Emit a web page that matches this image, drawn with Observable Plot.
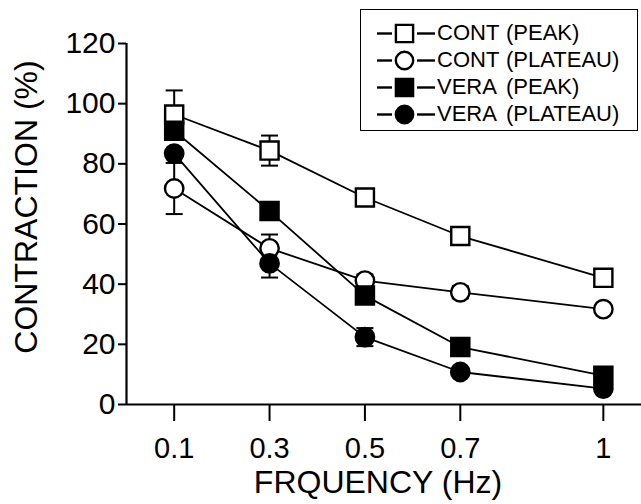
<!DOCTYPE html>
<html><head><meta charset="utf-8">
<script src="https://cdn.jsdelivr.net/npm/d3@7"></script>
<script src="https://cdn.jsdelivr.net/npm/@observablehq/plot@0.6"></script>
<style>
body{margin:0;background:#fff;}
#wrap{position:relative;width:641px;height:504px;font-family:"Liberation Sans",Arial,Helvetica,sans-serif;color:#000;}
#legendBox{position:absolute;left:360px;top:9px;width:278px;height:122px;border:1.6px solid #000;box-sizing:border-box;}
.lrow{position:absolute;height:26px;line-height:26px;font-size:22px;white-space:nowrap;}
</style></head><body><div id="wrap"></div>
<script>
// ---- data ----
const frequencies = [0.1, 0.3, 0.5, 0.7, 1];
const xTickLabels = ["0.1", "0.3", "0.5", "0.7", "1"];
const yTicks = [0, 20, 40, 60, 80, 100, 120];
const seriesKeys = ["CONT PEAK", "CONT PLATEAU", "VERA PEAK", "VERA PLATEAU"];
const legendNames = ["CONT", "CONT", "VERA", "VERA"];
const legendTypes = ["(PEAK)", "(PLATEAU)", "(PEAK)", "(PLATEAU)"];
const contPeak = [96.4, 84.4, 68.8, 56.0, 42.1];
const contPeakErr = [8, 5, 2, 0, 2];
const contPlateau = [71.8, 51.9, 41.2, 37.3, 31.7];
const contPlateauErr = [8.5, 4.6, 2, 2, 0];
const veraPeak = [91.0, 64.3, 36.2, 19.1, 9.6];
const veraPeakErr = [0, 0, 0, 2, 0];
const veraPlateau = [83.4, 46.9, 22.4, 10.8, 5.3];
const veraPlateauErr = [0, 4.7, 3, 0, 0];
const xLabel = "FRQUENCY (Hz)";
const yLabel = "CONTRACTION (%)";

// ---- build table ----
const seriesValues = [contPeak, contPlateau, veraPeak, veraPlateau];
const seriesErrs = [contPeakErr, contPlateauErr, veraPeakErr, veraPlateauErr];
const rows = [];
seriesKeys.forEach((k, s) => frequencies.forEach((f, i) => rows.push({series: k, x: f, y: seriesValues[s][i], err: seriesErrs[s][i]})));
const errRows = rows.filter(d => d.err > 0);

// ---- styles ----
const symbolOf = {"CONT PEAK": "square", "CONT PLATEAU": "circle", "VERA PEAK": "square", "VERA PLATEAU": "circle"};
const fillOf = {"CONT PEAK": "white", "CONT PLATEAU": "white", "VERA PEAK": "black", "VERA PLATEAU": "black"};
const rOf = {square: 10.2, circle: 9.2};
const capSymbol = {draw(ctx) { ctx.moveTo(-8.5, 0); ctx.lineTo(8.5, 0); }};
const font = '"Liberation Sans", Arial, Helvetica, sans-serif';

const dotMarks = seriesKeys.map(k => Plot.dot(rows.filter(d => d.series === k), {
  x: "x", y: "y", symbol: symbolOf[k], r: rOf[symbolOf[k]], fill: fillOf[k], stroke: "black", strokeWidth: 2.4
}));

const chart = Plot.plot({
  width: 641, height: 504,
  marginLeft: 126, marginRight: 0, marginTop: 43, marginBottom: 100,
  style: {fontFamily: font, color: "black", background: "white", overflow: "visible"},
  x: {domain: [0, 1.08]},
  y: {domain: [0, 120]},
  marks: [
    Plot.axisY({ticks: yTicks, tickSize: 8, tickPadding: 3, fontSize: 30, strokeWidth: 2, label: null}),
    Plot.axisX({ticks: frequencies, tickFormat: d => xTickLabels[frequencies.indexOf(d)], tickSize: 17, tickPadding: 16, fontSize: 29, strokeWidth: 2, label: null}),
    Plot.ruleX([0], {strokeWidth: 2.2}),
    Plot.ruleY([0], {strokeWidth: 2.2}),
    Plot.line(rows, {x: "x", y: "y", z: "series", stroke: "black", strokeWidth: 1.8}),
    Plot.ruleX(errRows, {x: "x", y1: d => d.y - d.err, y2: d => d.y + d.err, strokeWidth: 2}),
    Plot.dot(errRows, {x: "x", y: d => d.y + d.err, symbol: capSymbol, stroke: "black", strokeWidth: 2}),
    Plot.dot(errRows, {x: "x", y: d => d.y - d.err, symbol: capSymbol, stroke: "black", strokeWidth: 2}),
    ...dotMarks,
    Plot.text([xLabel], {frameAnchor: "bottom", textAnchor: "middle", lineAnchor: "middle", dy: 78, dx: -6, fontSize: 32, fill: "black"}),
    Plot.text([yLabel], {frameAnchor: "left", textAnchor: "middle", lineAnchor: "middle", rotate: -90, dx: -100, dy: -17, fontSize: 32, fill: "black"})
  ]
});
const wrap = document.getElementById("wrap");
wrap.appendChild(chart);

// ---- legend ----
const box = document.createElement("div");
box.id = "legendBox";
wrap.appendChild(box);
const rowCenters = [33, 60, 87, 114];
seriesKeys.forEach((k, i) => {
  const cy = rowCenters[i];
  const sym = Plot.plot({
    width: 62, height: 24, margin: 0,
    x: {domain: [0, 62], axis: null}, y: {domain: [0, 24], axis: null},
    style: {background: "transparent", overflow: "visible"},
    marks: [
      Plot.ruleY([12], {x1: 2, x2: 17, strokeWidth: 2.4}),
      Plot.ruleY([12], {x1: 42, x2: 60, strokeWidth: 2.4}),
      Plot.dot([k], {x: 29, y: 12, symbol: symbolOf[k], r: rOf[symbolOf[k]] - 0.5, fill: fillOf[k], stroke: "black", strokeWidth: 2.4})
    ]
  });
  sym.style.position = "absolute";
  sym.style.left = "375px";
  sym.style.top = (cy - 12) + "px";
  wrap.appendChild(sym);
  const n = document.createElement("div");
  n.className = "lrow"; n.style.left = "437px"; n.style.top = (cy - 13) + "px";
  n.textContent = legendNames[i];
  wrap.appendChild(n);
  const t = document.createElement("div");
  t.className = "lrow"; t.style.left = "506px"; t.style.top = (cy - 13) + "px";
  t.textContent = legendTypes[i];
  wrap.appendChild(t);
});
</script></body></html>
